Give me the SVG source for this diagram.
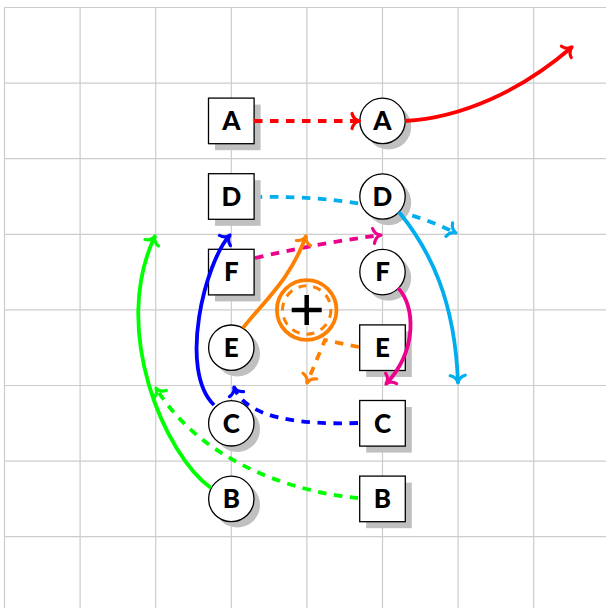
<svg xmlns="http://www.w3.org/2000/svg" width="606" height="608" viewBox="0 0 606 608">
<defs>
<style>
.grid line{stroke:#cccccc;stroke-width:1.2}
.sq{fill:#fff;stroke:#000;stroke-width:1.3}
.ci{fill:#fff;stroke:#000;stroke-width:1.3}
.sh{fill:#c0c0c0}
.lbl{font-family:Lato,"Open Sans","DejaVu Sans",sans-serif;font-weight:900;font-size:26px;text-anchor:middle;fill:#000}
.c{fill:none;stroke-width:3.8}
.d{stroke-dasharray:8.5 7.5}
.ah{fill:none;stroke-width:3.2;stroke-linecap:round;stroke-linejoin:round;stroke-dasharray:none}
</style>
<marker id="ar" markerUnits="userSpaceOnUse" viewBox="-10 -10 12 20" markerWidth="12" markerHeight="20" refX="0" refY="0" orient="auto" overflow="visible"><path class="ah" stroke="#ff0000" d="M-7.5,-7.5 C-6.3,-2.8 -2.8,-0.6 0,0 C-2.8,0.6 -6.3,2.8 -7.5,7.5"/></marker>
<marker id="ac" markerUnits="userSpaceOnUse" viewBox="-10 -10 12 20" markerWidth="12" markerHeight="20" refX="0" refY="0" orient="auto" overflow="visible"><path class="ah" stroke="#00aeef" d="M-7.5,-7.5 C-6.3,-2.8 -2.8,-0.6 0,0 C-2.8,0.6 -6.3,2.8 -7.5,7.5"/></marker>
<marker id="am" markerUnits="userSpaceOnUse" viewBox="-10 -10 12 20" markerWidth="12" markerHeight="20" refX="0" refY="0" orient="auto" overflow="visible"><path class="ah" stroke="#ec008c" d="M-7.5,-7.5 C-6.3,-2.8 -2.8,-0.6 0,0 C-2.8,0.6 -6.3,2.8 -7.5,7.5"/></marker>
<marker id="ao" markerUnits="userSpaceOnUse" viewBox="-10 -10 12 20" markerWidth="12" markerHeight="20" refX="0" refY="0" orient="auto" overflow="visible"><path class="ah" stroke="#ff8000" d="M-7.5,-7.5 C-6.3,-2.8 -2.8,-0.6 0,0 C-2.8,0.6 -6.3,2.8 -7.5,7.5"/></marker>
<marker id="ab" markerUnits="userSpaceOnUse" viewBox="-10 -10 12 20" markerWidth="12" markerHeight="20" refX="0" refY="0" orient="auto" overflow="visible"><path class="ah" stroke="#0000ff" d="M-7.5,-7.5 C-6.3,-2.8 -2.8,-0.6 0,0 C-2.8,0.6 -6.3,2.8 -7.5,7.5"/></marker>
<marker id="ag" markerUnits="userSpaceOnUse" viewBox="-10 -10 12 20" markerWidth="12" markerHeight="20" refX="0" refY="0" orient="auto" overflow="visible"><path class="ah" stroke="#00ff00" d="M-7.5,-7.5 C-6.3,-2.8 -2.8,-0.6 0,0 C-2.8,0.6 -6.3,2.8 -7.5,7.5"/></marker>
</defs>
<rect width="606" height="608" fill="#fff"/>
<g class="grid">
<line x1="4.5" y1="7.5" x2="4.5" y2="608"/>
<line x1="80.1" y1="7.5" x2="80.1" y2="608"/>
<line x1="155.7" y1="7.5" x2="155.7" y2="608"/>
<line x1="231.3" y1="7.5" x2="231.3" y2="608"/>
<line x1="306.9" y1="7.5" x2="306.9" y2="608"/>
<line x1="382.5" y1="7.5" x2="382.5" y2="608"/>
<line x1="458.1" y1="7.5" x2="458.1" y2="608"/>
<line x1="533.7" y1="7.5" x2="533.7" y2="608"/>
<line x1="4.5" y1="7.5" x2="606" y2="7.5"/>
<line x1="4.5" y1="83.1" x2="606" y2="83.1"/>
<line x1="4.5" y1="158.7" x2="606" y2="158.7"/>
<line x1="4.5" y1="234.3" x2="606" y2="234.3"/>
<line x1="4.5" y1="309.9" x2="606" y2="309.9"/>
<line x1="4.5" y1="385.5" x2="606" y2="385.5"/>
<line x1="4.5" y1="461.1" x2="606" y2="461.1"/>
<line x1="4.5" y1="536.7" x2="606" y2="536.7"/>
</g>
<g id="connectors-under">
<path class="c d" stroke="#00aeef" d="M254,197 C310,196 390,200 456,233" marker-end="url(#ac)"/>
</g>
<g id="nodes">
<g id="sqA"><rect class="sh" x="215" y="104.6" width="45.6" height="45.6"/><rect class="sq" x="208.5" y="98.1" width="45.6" height="45.6"/><text class="lbl" x="231.3" y="130.2">A</text></g>
<g id="sqD"><rect class="sh" x="215" y="180.2" width="45.6" height="45.6"/><rect class="sq" x="208.5" y="173.7" width="45.6" height="45.6"/><text class="lbl" x="231.3" y="205.8">D</text></g>
<g id="sqF"><rect class="sh" x="215" y="255.8" width="45.6" height="45.6"/><rect class="sq" x="208.5" y="249.3" width="45.6" height="45.6"/><text class="lbl" x="231.3" y="281.4">F</text></g>
<g id="sqE"><rect class="sh" x="366.2" y="331.4" width="45.6" height="45.6"/><rect class="sq" x="359.7" y="324.9" width="45.6" height="45.6"/><text class="lbl" x="382.5" y="357">E</text></g>
<g id="sqC"><rect class="sh" x="366.2" y="407" width="45.6" height="45.6"/><rect class="sq" x="359.7" y="400.5" width="45.6" height="45.6"/><text class="lbl" x="382.5" y="432.6">C</text></g>
<g id="sqB"><rect class="sh" x="366.2" y="482.6" width="45.6" height="45.6"/><rect class="sq" x="359.7" y="476.1" width="45.6" height="45.6"/><text class="lbl" x="382.5" y="508.2">B</text></g>
<g id="ciA"><circle class="sh" cx="388.5" cy="126.9" r="22.7"/><circle class="ci" cx="382.5" cy="120.9" r="22.7"/><text class="lbl" x="382.5" y="130.2">A</text></g>
<g id="ciD"><circle class="sh" cx="388.5" cy="202.5" r="22.7"/><circle class="ci" cx="382.5" cy="196.5" r="22.7"/><text class="lbl" x="382.5" y="205.8">D</text></g>
<g id="ciF"><circle class="sh" cx="388.5" cy="278.1" r="22.7"/><circle class="ci" cx="382.5" cy="272.1" r="22.7"/><text class="lbl" x="382.5" y="281.4">F</text></g>
<g id="ciE"><circle class="sh" cx="237.3" cy="353.7" r="22.7"/><circle class="ci" cx="231.3" cy="347.7" r="22.7"/><text class="lbl" x="231.3" y="357">E</text></g>
<g id="ciC"><circle class="sh" cx="237.3" cy="429.3" r="22.7"/><circle class="ci" cx="231.3" cy="423.3" r="22.7"/><text class="lbl" x="231.3" y="432.6">C</text></g>
<g id="ciB"><circle class="sh" cx="237.3" cy="504.9" r="22.7"/><circle class="ci" cx="231.3" cy="498.9" r="22.7"/><text class="lbl" x="231.3" y="508.2">B</text></g>
<g id="target">
<circle cx="306.7" cy="310" r="29.8" fill="none" stroke="#ff8000" stroke-width="3.8"/>
<circle cx="306.7" cy="310" r="24.2" fill="none" stroke="#ff8000" stroke-width="3" stroke-dasharray="8 7"/>
<path d="M291.7,310 H321.7 M306.7,295 V325" stroke="#000" stroke-width="4.5" fill="none"/>
</g>
</g>
<g id="connectors">
<path class="c d" stroke="#ff0000" d="M254,121 L359.5,121" marker-end="url(#ar)"/>
<path class="c" stroke="#ff0000" d="M405,121 C460,118 520,92 572,47" marker-end="url(#ar)"/>
<path class="c" stroke="#00aeef" d="M399,212 C430,250 455,300 458,383" marker-end="url(#ac)"/>
<path class="c d" stroke="#ec008c" d="M255,258 Q320,243 381,235" marker-end="url(#am)"/>
<path class="c" stroke="#ec008c" d="M398,288 C415,305 418,350 386,384" marker-end="url(#am)"/>
<path class="c" stroke="#ff8000" d="M243,328 C265,300 290,280 306,236" marker-end="url(#ao)"/>
<path class="c d" stroke="#ff8000" stroke-linejoin="round" d="M359,347 L325,340 L307,383" marker-end="url(#ao)"/>
<path class="c" stroke="#0000ff" d="M214,405 C178,370 205,262 230,235" marker-end="url(#ab)"/>
<path class="c d" stroke="#0000ff" d="M358,423 C300,425 245,418 234,387" marker-end="url(#ab)"/>
<path class="c" stroke="#00ff00" d="M211,488 C165,455 110,330 155,236" marker-end="url(#ag)"/>
<path class="c d" stroke="#00ff00" d="M358,498 C290,492 200,460 156,388" marker-end="url(#ag)"/>
</g>
</svg>
